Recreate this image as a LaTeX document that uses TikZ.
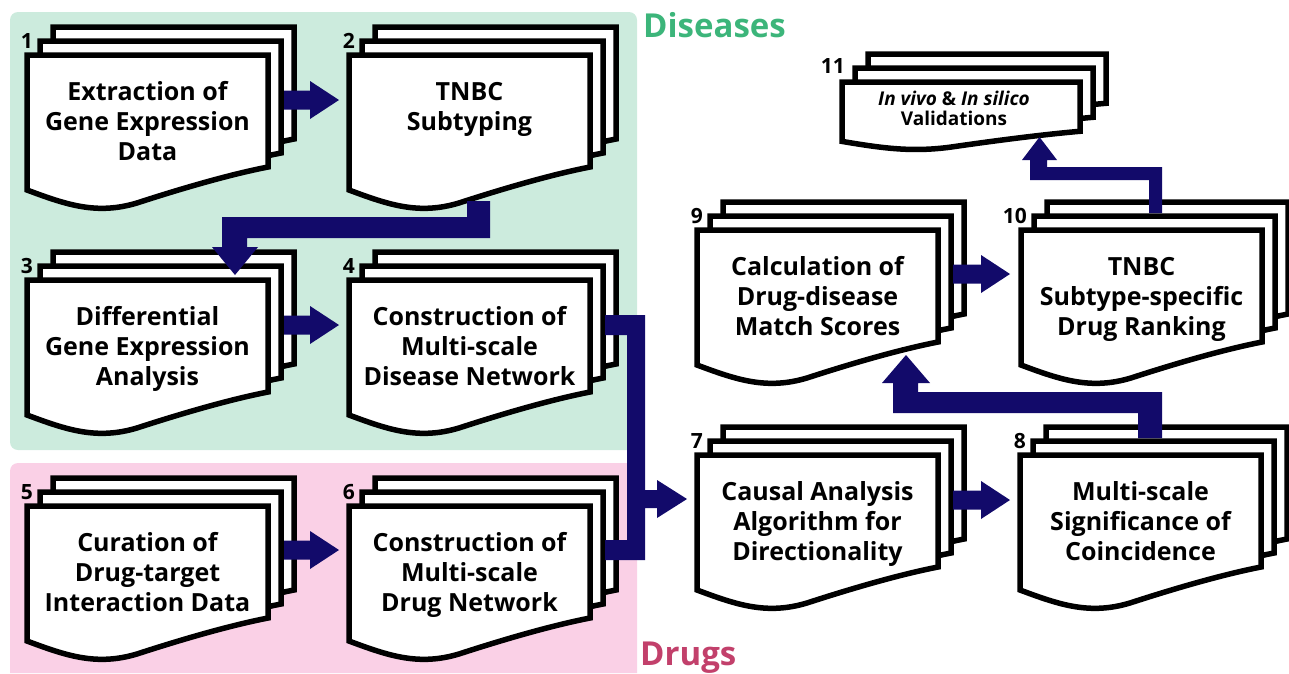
\documentclass[tikz,border=0pt]{standalone}
\usepackage{fontspec}
\setmainfont{Open Sans}
\definecolor{navy}{RGB}{18,10,106}
\definecolor{bggreen}{RGB}{204,235,221}
\definecolor{bgpink}{RGB}{250,208,230}
\definecolor{tgreen}{RGB}{60,181,122}
\definecolor{tpink}{RGB}{194,64,107}
\tikzset{
  docline/.style={draw=black, fill=white, line width=5.5pt, miter limit=4},
  boxtext/.style={font=\bfseries\fontsize{25}{30}\selectfont, align=center, anchor=north, inner sep=0pt},
  smalltext/.style={font=\bfseries\fontsize{19}{20}\selectfont, align=center, anchor=north, inner sep=0pt},
  numlabel/.style={font=\bfseries\fontsize{21}{26}\selectfont, anchor=base east, inner sep=0pt},
  grouplabel/.style={font=\bfseries\fontsize{33}{36}\selectfont, anchor=base west, inner sep=0pt},
  blockarrow/.style={fill=navy}
}
% one document sheet: x y width vertical-scale
\newcommand\onedoc[4]{%
  \filldraw[docline] ({#1},{#2}) -- ({#1+#3},{#2}) -- ({#1+#3},{#2+112*#4})
   .. controls ({#1+0.83*#3},{#2+120*#4}) and ({#1+0.622*#3},{#2+135*#4}) .. ({#1+0.456*#3},{#2+148*#4})
   .. controls ({#1+0.29*#3},{#2+160*#4}) and ({#1+0.166*#3},{#2+150*#4}) .. ({#1},{#2+135*#4}) -- cycle;}
\newcommand\stackdoc[4]{%
  \onedoc{#1+26}{#2-28}{#3}{#4}\onedoc{#1+13}{#2-14}{#3}{#4}\onedoc{#1}{#2}{#3}{#4}}
% right block arrow: xstart xtip ycenter
\newcommand\rightblock[3]{%
  \fill[blockarrow] ({#1},{#3-9.5}) -- ({#2-29},{#3-9.5}) -- ({#2-29},{#3-19}) -- ({#2},{#3})
   -- ({#2-29},{#3+19}) -- ({#2-29},{#3+9.5}) -- ({#1},{#3+9.5}) -- cycle;}
\begin{document}
\begin{tikzpicture}[x=1pt,y=-1pt]
\useasboundingbox (0,0) rectangle (1289,673);
% group backgrounds
\fill[bggreen, rounded corners=8pt] (10,12) rectangle (637,450);
\fill[bgpink] (10,673) [rounded corners=8pt] -- (10,463) -- (637,463) [sharp corners] -- (637,673) -- cycle;
\node[grouplabel, text=tgreen] (diseases) at (643,37) {Diseases};
\node[grouplabel, text=tpink] (drugs) at (640,665) {Drugs};

% document stacks
\stackdoc{27}{55}{241}{1}
\stackdoc{349}{55}{241}{1}
\stackdoc{27}{280}{241}{1}
\stackdoc{349}{280}{241}{1}
\stackdoc{27}{506}{241}{1}
\stackdoc{349}{506}{241}{1}
\stackdoc{697}{455}{241}{1}
\stackdoc{1020}{455}{241}{1}
\stackdoc{697}{230}{241}{1}
\stackdoc{1021}{230}{241}{1}
\stackdoc{842}{82}{238}{0.44}

% numbers
\node[numlabel] (n1) at (33,48) {1};
\node[numlabel] (n2) at (355,48) {2};
\node[numlabel] (n3) at (33,273) {3};
\node[numlabel] (n4) at (355,273) {4};
\node[numlabel] (n5) at (33,499) {5};
\node[numlabel] (n6) at (355,499) {6};
\node[numlabel] (n7) at (703,448) {7};
\node[numlabel] (n8) at (1026,448) {8};
\node[numlabel] (n9) at (703,223) {9};
\node[numlabel] (n10) at (1027,223) {10};
\node[numlabel] (n11) at (845,73) {11};

% texts
\node[boxtext] (t1) at (147.5,79) {\rule{0pt}{21pt}Extraction of\\Gene Expression\\Data};
\node[boxtext] (t2) at (469.5,79) {\rule{0pt}{21pt}TNBC\\Subtyping};
\node[boxtext] (t3) at (147.5,304) {\rule{0pt}{21pt}Differential\\Gene Expression\\Analysis};
\node[boxtext] (t4) at (469.5,304) {\rule{0pt}{21pt}Construction of\\Multi-scale\\Disease Network};
\node[boxtext] (t5) at (147.5,530) {\rule{0pt}{21pt}Curation of\\Drug-target\\Interaction Data};
\node[boxtext] (t6) at (469.5,530) {\rule{0pt}{21pt}Construction of\\Multi-scale\\Drug Network};
\node[boxtext] (t7) at (817.5,479) {\rule{0pt}{21pt}Causal Analysis\\Algorithm for\\Directionality};
\node[boxtext] (t8) at (1140.5,479) {\rule{0pt}{21pt}Multi-scale\\Significance of\\Coincidence};
\node[boxtext] (t9) at (817.5,254) {\rule{0pt}{21pt}Calculation of\\Drug-disease\\Match Scores};
\node[boxtext] (t10) at (1141.5,254) {\rule{0pt}{21pt}TNBC\\Subtype-specific\\Drug Ranking};
\node[smalltext] (t11) at (954,89) {\rule{0pt}{16pt}\textit{In vivo} \& \textit{In silico}\\Validations};

% arrows
\rightblock{284}{339}{100}
\rightblock{284}{339}{325}
\rightblock{284}{339}{550}
\rightblock{953}{1010}{500}
\rightblock{953}{1010}{274}
% 2 -> 3
\fill[blockarrow] (467,201) -- (490,201) -- (490,238) -- (247,238) -- (247,247) -- (258,247)
  -- (235,275) -- (212,247) -- (222,247) -- (222,217) -- (467,217) -- cycle;
% 4,6 -> 7
\fill[blockarrow] (605,315) -- (645,315) -- (645,490) -- (657,490) -- (657,480) -- (687,499)
  -- (657,518) -- (657,508) -- (645,508) -- (645,560) -- (605,560) -- (605,540) -- (627,540)
  -- (627,335) -- (605,335) -- cycle;
% 8 -> 9
\fill[blockarrow] (1162,438) -- (1138,438) -- (1138,413) -- (893,413) -- (893,383) -- (882,383)
  -- (906,355) -- (930,383) -- (918,383) -- (918,392) -- (1162,392) -- cycle;
% 10 -> 11
\fill[blockarrow] (1162,213) -- (1149,213) -- (1149,180) -- (1030,180) -- (1030,160) -- (1022,160)
  -- (1039.5,137) -- (1057,160) -- (1047,160) -- (1047,167) -- (1162,167) -- cycle;
\end{tikzpicture}
\end{document}
